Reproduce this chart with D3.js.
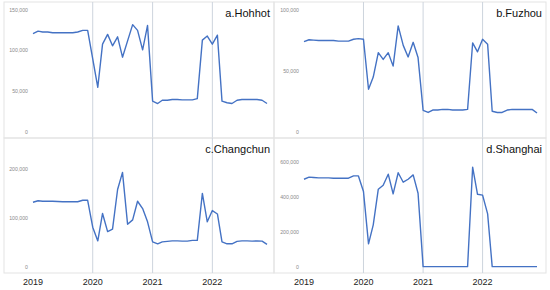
<!DOCTYPE html>
<html>
<head>
<meta charset="utf-8">
<script src="https://cdn.jsdelivr.net/npm/d3@7"></script>
<style>
  html, body { margin: 0; padding: 0; background: #ffffff; }
  svg { display: block; font-family: "Liberation Sans", Arial, sans-serif; }
</style>
</head>
<body>
<svg id="chart"></svg>
<script>
// Monthly values, Jan 2019 .. Dec 2022
const years = [2019, 2020, 2021, 2022];
const months = d3.timeMonth.range(new Date(2019, 0, 1), new Date(2023, 0, 1));

const hohhot = [121000, 124000, 123000, 123000, 122000, 122000, 122000, 122000, 122000, 123000, 125000, 125000,
    90000, 55000, 108000, 120000, 106000, 117000, 92000, 112000, 132000, 125000, 101000, 131000,
    38000, 35000, 39000, 39000, 40000, 40000, 39500, 39500, 39500, 41000, 113000, 118000,
    108000, 119000, 38000, 36000, 35000, 39000, 40000, 40000, 40000, 40000, 39000, 35000];

const fuzhou = [74000, 75600, 75300, 75000, 75000, 75000, 75000, 74500, 74500, 74500, 76000, 76500,
    76000, 35000, 45000, 65000, 59500, 65000, 54000, 87000, 71000, 61500, 73500, 61000,
    17800, 16000, 18000, 18000, 18500, 18500, 18000, 18000, 18000, 18500, 73000, 65700,
    76000, 72000, 17000, 16000, 16000, 18000, 18500, 18500, 18500, 18500, 18500, 15600];

const changchun = [133000, 136000, 135000, 135000, 135000, 134500, 134000, 134000, 134000, 134000, 137000, 137000,
    82000, 54000, 110000, 73000, 78000, 159000, 194000, 88000, 97000, 135000, 120000, 93000,
    52000, 48000, 52000, 53000, 54000, 54000, 53500, 53500, 55000, 55000, 151000, 93000,
    116000, 109000, 52000, 48000, 48000, 53000, 54000, 54000, 53500, 54000, 53500, 47000];

const shanghai = [504000, 516000, 514000, 512000, 512000, 512000, 510000, 510000, 510000, 510000, 523000, 523000,
    434000, 134000, 243000, 447000, 470000, 533000, 420000, 541000, 487000, 504000, 529000, 424000,
    4000, 4000, 4000, 4000, 4000, 4000, 4000, 4000, 4000, 4000, 573000, 418000,
    413000, 306000, 4000, 4000, 4000, 4000, 4000, 4000, 4000, 4000, 4000, 4000];

const titles = ["a.Hohhot", "b.Fuzhou", "c.Changchun", "d.Shanghai"];
const seriesList = [hohhot, fuzhou, changchun, shanghai];
const yMax = [150000, 100000, 250000, 700000];
const yTicks = [
    [0, 50000, 100000, 150000],
    [0, 50000, 100000],
    [0, 100000, 200000],
    [0, 200000, 400000, 600000]
];

const width = 550;
const height = 290;

const svg = d3.select("#chart")
    .attr("width", width)
    .attr("height", height);

// Panel frames: columns and rows of the 2x2 grid
const cols = [
    { left: 4, right: 274, x0: 33, x1: 267, labelX: 28 },
    { left: 274, right: 546, x0: 304, x1: 537, labelX: 299 }
];
const rows = [
    { top: 2, bottom: 138, y0: 132, y1: 10 },
    { top: 138, bottom: 273, y0: 267.3, y1: 145 }
];

const fmt = d3.format(",");

seriesList.forEach((values, i) => {
    const col = cols[i % 2];
    const row = rows[Math.floor(i / 2)];

    const x = d3.scaleTime()
        .domain([months[0], months[months.length - 1]])
        .range([col.x0, col.x1]);

    const y = d3.scaleLinear()
        .domain([0, yMax[i]])
        .range([row.y0, row.y1]);

    const g = svg.append("g");

    // panel border
    g.append("rect")
        .attr("x", col.left)
        .attr("y", row.top)
        .attr("width", col.right - col.left)
        .attr("height", row.bottom - row.top)
        .attr("fill", "none")
        .attr("stroke", "#e3e3e3")
        .attr("stroke-width", 1);

    // year grid lines
    g.selectAll(".year-line")
        .data(years.slice(1))
        .join("line")
        .attr("class", "year-line")
        .attr("x1", d => x(new Date(d, 0, 1)))
        .attr("x2", d => x(new Date(d, 0, 1)))
        .attr("y1", row.top)
        .attr("y2", row.bottom)
        .attr("stroke", "#cdd4dd")
        .attr("stroke-width", 1);

    // y tick labels
    g.selectAll(".y-label")
        .data(yTicks[i])
        .join("text")
        .attr("class", "y-label")
        .attr("x", col.labelX)
        .attr("y", d => y(d))
        .attr("dy", "0.35em")
        .attr("text-anchor", "end")
        .style("font-size", "5.2px")
        .attr("fill", "#8a8a8a")
        .text(d => fmt(d));

    // data line
    const line = d3.line()
        .x((d, j) => x(months[j]))
        .y(d => y(d));

    g.append("path")
        .datum(values)
        .attr("d", line)
        .attr("fill", "none")
        .attr("stroke", "#4472c4")
        .attr("stroke-width", 1.4)
        .attr("stroke-linejoin", "round");

    // panel title
    g.append("text")
        .attr("x", col.right - 4)
        .attr("y", row.top + 15)
        .attr("text-anchor", "end")
        .style("font-size", "11px")
        .attr("fill", "#111111")
        .text(titles[i]);

    // year labels under bottom row
    if (row === rows[1]) {
        g.selectAll(".x-label")
            .data(years)
            .join("text")
            .attr("class", "x-label")
            .attr("x", d => x(new Date(d, 0, 1)))
            .attr("y", 284.5)
            .attr("text-anchor", "middle")
            .style("font-size", "9px")
            .attr("fill", "#222222")
            .text(d => d);
    }
});
</script>
</body>
</html>
